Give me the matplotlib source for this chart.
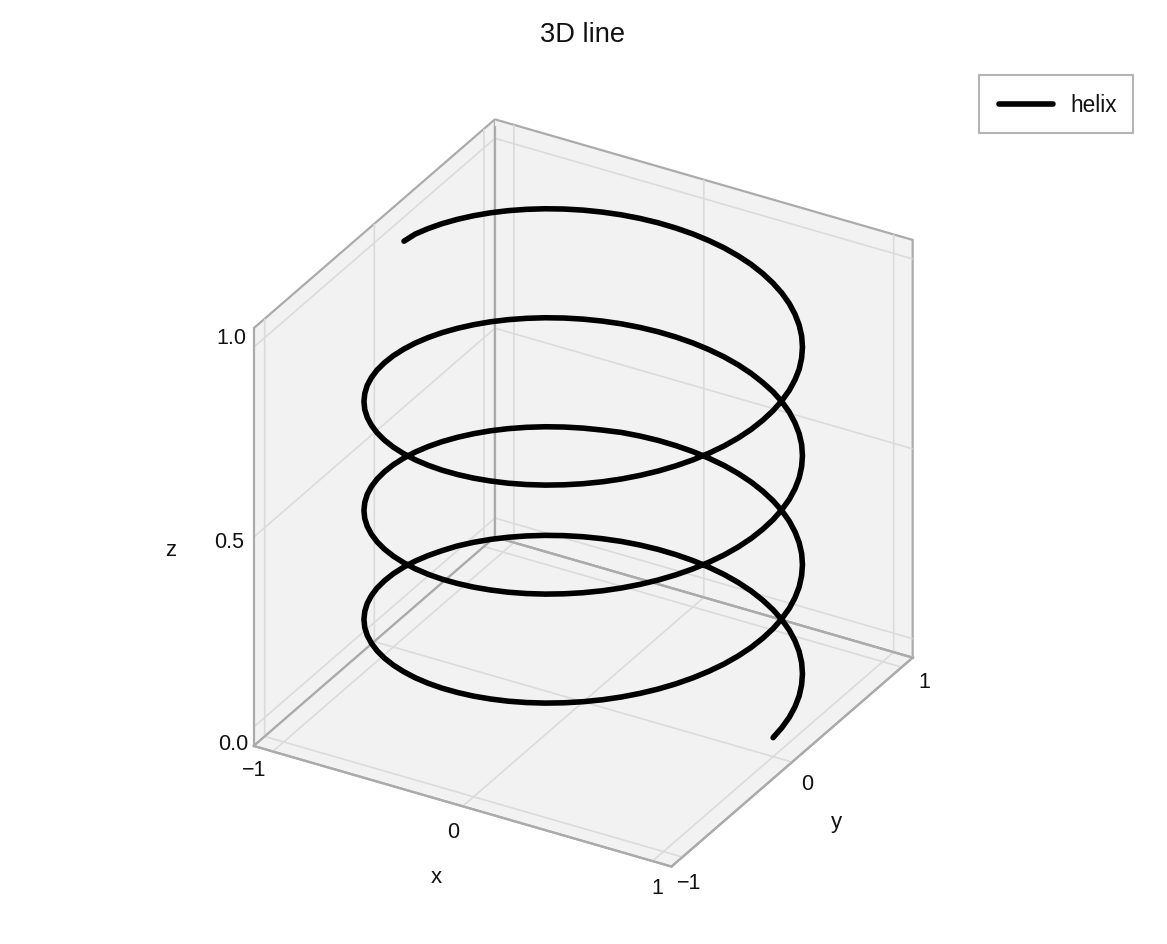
import matplotlib
matplotlib.use('Agg')
import matplotlib.pyplot as plt
from matplotlib.patches import Rectangle

plt.rcParams['font.family'] = ['Liberation Sans', 'DejaVu Sans']

# helix points, one row per half turn
x_vals = [
	1, .996, .985, .966, .940, .906, .866, .819, .766, .707, .643, .574, .5, .423, .342, .259, .174, .087, 0, -.087, -.174, -.259, -.342, -.423, -.5, -.574, -.643, -.707, -.766, -.819, -.866, -.906, -.940, -.966, -.985, -.996,
	-1, -.996, -.985, -.966, -.940, -.906, -.866, -.819, -.766, -.707, -.643, -.574, -.5, -.423, -.342, -.259, -.174, -.087, 0, .087, .174, .259, .342, .423, .5, .574, .643, .707, .766, .819, .866, .906, .940, .966, .985, .996,
	1, .996, .985, .966, .940, .906, .866, .819, .766, .707, .643, .574, .5, .423, .342, .259, .174, .087, 0, -.087, -.174, -.259, -.342, -.423, -.5, -.574, -.643, -.707, -.766, -.819, -.866, -.906, -.940, -.966, -.985, -.996,
	-1, -.996, -.985, -.966, -.940, -.906, -.866, -.819, -.766, -.707, -.643, -.574, -.5, -.423, -.342, -.259, -.174, -.087, 0, .087, .174, .259, .342, .423, .5, .574, .643, .707, .766, .819, .866, .906, .940, .966, .985, .996,
	1, .996, .985, .966, .940, .906, .866, .819, .766, .707, .643, .574, .5, .423, .342, .259, .174, .087, 0, -.087, -.174, -.259, -.342, -.423, -.5, -.574, -.643, -.707, -.766, -.819, -.866, -.906, -.940, -.966, -.985, -.996,
	-1, -.996, -.985, -.966, -.940, -.906, -.866, -.819, -.766, -.707, -.643, -.574, -.5, -.423, -.342, -.259, -.174, -.087, 0, .087, .174, .259, .342, .423, .5, .574, .643, .707, .766, .819, .866, .906, .940, .966, .985, .996,
	1, .996, .985, .966, .940, .906, .866, .819, .766, .707, .643, .574, .5, .423, .342, .259, .174, .087, 0, -.087, -.174, -.259, -.342, -.423, -.5, -.574, -.643, -.707, -.766, -.819, -.866, -.906, -.940, -.966, -.985, -.99,
]
y_vals = [
	0, .087, .174, .259, .342, .423, .5, .574, .643, .707, .766, .819, .866, .906, .940, .966, .985, .996, 1, .996, .985, .966, .940, .906, .866, .819, .766, .707, .643, .574, .5, .423, .342, .259, .174, .087,
	0, -.087, -.174, -.259, -.342, -.423, -.5, -.574, -.643, -.707, -.766, -.819, -.866, -.906, -.940, -.966, -.985, -.996, -1, -.996, -.985, -.966, -.940, -.906, -.866, -.819, -.766, -.707, -.643, -.574, -.5, -.423, -.342, -.259, -.174, -.087,
	0, .087, .174, .259, .342, .423, .5, .574, .643, .707, .766, .819, .866, .906, .940, .966, .985, .996, 1, .996, .985, .966, .940, .906, .866, .819, .766, .707, .643, .574, .5, .423, .342, .259, .174, .087,
	0, -.087, -.174, -.259, -.342, -.423, -.5, -.574, -.643, -.707, -.766, -.819, -.866, -.906, -.940, -.966, -.985, -.996, -1, -.996, -.985, -.966, -.940, -.906, -.866, -.819, -.766, -.707, -.643, -.574, -.5, -.423, -.342, -.259, -.174, -.087,
	0, .087, .174, .259, .342, .423, .5, .574, .643, .707, .766, .819, .866, .906, .940, .966, .985, .996, 1, .996, .985, .966, .940, .906, .866, .819, .766, .707, .643, .574, .5, .423, .342, .259, .174, .087,
	0, -.087, -.174, -.259, -.342, -.423, -.5, -.574, -.643, -.707, -.766, -.819, -.866, -.906, -.940, -.966, -.985, -.996, -1, -.996, -.985, -.966, -.940, -.906, -.866, -.819, -.766, -.707, -.643, -.574, -.5, -.423, -.342, -.259, -.174, -.087,
	0, .087, .174, .259, .342, .423, .5, .574, .643, .707, .766, .819, .866, .906, .940, .966, .985, .996, 1, .996, .985, .966, .940, .906, .866, .819, .766, .707, .643, .574, .5, .423, .342, .259, .174, .08,
]
z_vals = [
	0, .004, .008, .012, .016, .020, .024, .028, .032, .036, .040, .044, .048, .052, .056, .060, .064, .068, .072, .076, .080, .084, .088, .092, .096, .100, .104, .108, .112, .116, .120, .124, .127, .131, .135, .139,
	.143, .147, .151, .155, .159, .163, .167, .171, .175, .179, .183, .187, .191, .195, .199, .203, .207, .211, .215, .219, .223, .227, .231, .235, .239, .243, .247, .251, .255, .259, .263, .267, .271, .275, .279, .283,
	.287, .291, .295, .299, .303, .307, .311, .315, .319, .323, .327, .331, .335, .339, .343, .347, .351, .355, .359, .363, .367, .371, .375, .378, .382, .386, .390, .394, .398, .402, .406, .410, .414, .418, .422, .426,
	.430, .434, .438, .442, .446, .450, .454, .458, .462, .466, .470, .474, .478, .482, .486, .490, .494, .498, .502, .506, .510, .514, .518, .522, .526, .530, .534, .538, .542, .546, .550, .554, .558, .562, .566, .570,
	.574, .578, .582, .586, .590, .594, .598, .602, .606, .610, .614, .618, .622, .625, .629, .633, .637, .641, .645, .649, .653, .657, .661, .665, .669, .673, .677, .681, .685, .689, .693, .697, .701, .705, .709, .713,
	.717, .721, .725, .729, .733, .737, .741, .745, .749, .753, .757, .761, .765, .769, .773, .777, .781, .785, .789, .793, .797, .801, .805, .809, .813, .817, .821, .825, .829, .833, .837, .841, .845, .849, .853, .857,
	.861, .865, .869, .873, .876, .880, .884, .888, .892, .896, .900, .904, .908, .912, .916, .920, .924, .928, .932, .936, .940, .944, .948, .952, .956, .960, .964, .968, .972, .976, .980, .984, .988, .992, .996, 1.0,
]
xy_ticks = [-1, 0, 1]
z_ticks = [0.0, 0.5, 1.0]
xy_tick_labels = ['\u22121', '0', '1']
z_tick_labels = ['0.0', '0.5', '1.0']

text_col = '#111111'
edge_col = '#ababab'
grid_col = '#dbdbdb'
pane_col = '#f2f2f2'
W, H = 1167, 944
xy_lo, xy_hi = -1.1, 1.1
z_lo, z_hi = -0.05, 1.05

def px_text(px, py, s, size):
	# px, py: centre and baseline of the text in picture pixels
	fig.text(px / W, 1 - py / H, s, ha='center', va='baseline', fontsize=size, color=text_col)

fig = plt.figure(figsize=(W / 100, H / 100), dpi=100)
ax = fig.add_axes([0.091, 0.067, 0.8, 0.8], projection='3d', computed_zorder=False)
ax.set_proj_type('ortho')
ax.view_init(elev=30, azim=-60)
ax.set_box_aspect((1, 1, 1), zoom=1.074)

# the panes paint over half of the back edges, so these go on top again
ax.plot([xy_lo, xy_lo], [xy_lo, xy_hi], [z_lo, z_lo], color=edge_col, lw=1.6, zorder=1)
ax.plot([xy_lo, xy_hi], [xy_hi, xy_hi], [z_lo, z_lo], color=edge_col, lw=1.6, zorder=1)
ax.plot([xy_lo, xy_lo], [xy_hi, xy_hi], [z_lo, z_hi], color=edge_col, lw=1.6, zorder=1)

line, = ax.plot(x_vals, y_vals, z_vals, color='black', lw=4.0, solid_capstyle='round', label='helix', zorder=2)
line.set_snap(False)

ax.set_xlim(xy_lo, xy_hi, view_margin=0)
ax.set_ylim(xy_lo, xy_hi, view_margin=0)
ax.set_zlim(z_lo, z_hi, view_margin=0)
ax.set_xticks(xy_ticks)
ax.set_yticks(xy_ticks)
ax.set_zticks(z_ticks)
ax.set_xticklabels([])
ax.set_yticklabels([])
ax.set_zticklabels([])

ax.zaxis.set_ticks_position('lower')

for axis in (ax.xaxis, ax.yaxis, ax.zaxis):
	axis.set_pane_color(pane_col)
	axis.pane.set_edgecolor(edge_col)
	axis.pane.set_linewidth(1.6)
	axis.line.set_color(edge_col)
	axis.line.set_linewidth(1.6)
	axis._axinfo['grid']['color'] = grid_col
	axis._axinfo['grid']['linewidth'] = 1.2
	axis._axinfo['tick']['inward_factor'] = 0
	axis._axinfo['tick']['outward_factor'] = 0

# tick labels sit where the reference has them, not where mplot3d puts them
for s, px, py in zip(xy_tick_labels, [254, 453.5, 657.5], [776, 838, 894]):
	px_text(px, py, s, 15.5)
for s, px, py in zip(xy_tick_labels, [689, 807.5, 924], [889, 790, 688]):
	px_text(px, py, s, 15.5)
for s, px, py in zip(z_tick_labels, [233, 229, 231], [750, 548, 344]):
	px_text(px, py, s, 15.5)

px_text(436.5, 883, 'x', 16)
px_text(836.5, 828, 'y', 16)
px_text(171, 556, 'z', 16)
px_text(583, 42, '3D line', 19.6)

# legend frame drawn on its own, matplotlib's padding can't be made uneven
fig.add_artist(Rectangle((979 / W, 1 - 133 / H), 154 / W, 58 / H, transform=fig.transFigure,
	facecolor='white', edgecolor='#b5b5b5', lw=1.5))
leg = fig.legend(handles=[line], loc='center right', bbox_to_anchor=(1117 / W, 1 - 105.5 / H),
	borderaxespad=0, frameon=False, fontsize=16.3, labelcolor=text_col,
	borderpad=0, handlelength=2.4, handletextpad=0.77)

fig.savefig('out.png', dpi=100)
